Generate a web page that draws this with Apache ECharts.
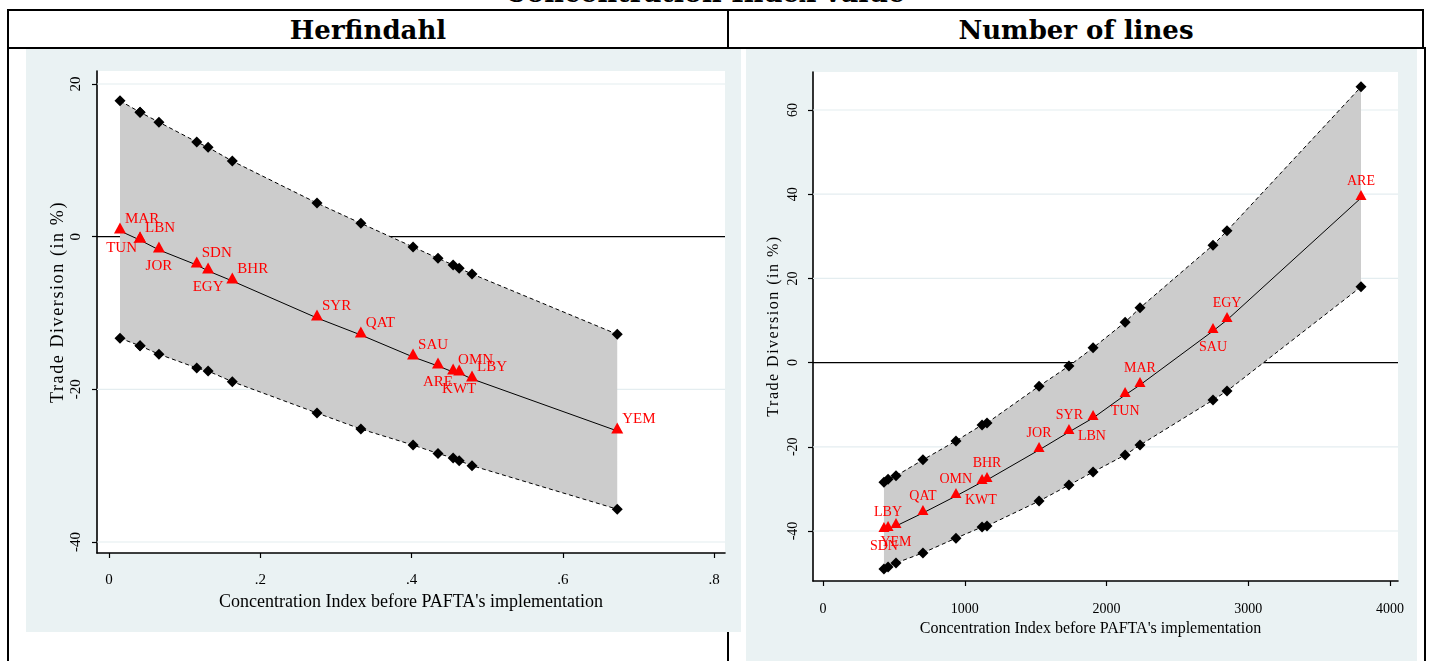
<!DOCTYPE html>
<html>
<head>
<meta charset="utf-8">
<script src="https://cdn.jsdelivr.net/npm/echarts@6/dist/echarts.min.js"></script>
<style>
  html, body { margin:0; padding:0; background:#fff; }
  #wrap { position:relative; width:1430px; height:661px; overflow:hidden; background:#fff; }
  .ln { position:absolute; background:#000; }
  .panel { position:absolute; background:#eaf2f3; }
  .hdr { position:absolute; font-family:"DejaVu Serif", serif; font-weight:bold; font-size:26px; line-height:30px; text-align:center; color:#000; white-space:nowrap; }
  .ytitle { position:absolute; font-family:"Liberation Serif", serif; color:#000; text-align:center; white-space:nowrap; transform:rotate(-90deg); transform-origin:50% 50%; }
  #chart { position:absolute; left:0; top:0; width:1430px; height:661px; }
</style>
</head>
<body>
<div id="wrap">
  <div class="hdr" style="left:405px; width:600px; top:-22px; font-size:27px;">Concentration Index value</div>
  <div class="ln" style="left:7px; top:9px; width:1417px; height:2px;"></div>
  <div class="ln" style="left:7px; top:47px; width:1419px; height:2px;"></div>
  <div class="ln" style="left:7px; top:9px; width:2px; height:652px;"></div>
  <div class="ln" style="left:727px; top:9px; width:2px; height:652px;"></div>
  <div class="ln" style="left:1422px; top:9px; width:2px; height:40px;"></div>
  <div class="ln" style="left:1424px; top:47px; width:2px; height:614px;"></div>
  <div class="hdr" style="left:128px; width:480px; top:15px;">Herfindahl</div>
  <div class="hdr" style="left:836px; width:480px; top:15px;">Number of lines</div>
  <div class="panel" style="left:26px; top:49px; width:715px; height:583px;"></div>
  <div class="panel" style="left:746px; top:49px; width:671px; height:612px;"></div>
  <div id="chart"></div>
  <div class="ytitle" id="yt0" style="left:-53px; top:290px; width:220px; height:24px; line-height:24px; font-size:18px; letter-spacing:1.6px;"></div>
  <div class="ytitle" id="yt1" style="left:673px; top:315px; width:200px; height:22px; line-height:22px; font-size:16px; letter-spacing:1.5px;"></div>
</div>
<script>
// ---------------- DATA ----------------
// Herfindahl panel
const herfCountries = ['MAR','TUN','LBN','JOR','SDN','EGY','BHR','SYR','QAT','SAU','ARE','OMN','KWT','LBY','YEM'];
const herfIndex     = [0.0145,0.041,0.041,0.066,0.116,0.131,0.163,0.275,0.333,0.402,0.435,0.455,0.463,0.480,0.672];
const herfEffect    = [0.75,-0.45,-0.45,-1.74,-3.71,-4.49,-5.80,-10.65,-12.88,-15.76,-16.94,-17.73,-17.86,-18.64,-25.45];
const herfUpper     = [17.8,16.3,16.3,15.0,12.4,11.7,9.9,4.4,1.75,-1.35,-2.83,-3.71,-4.14,-4.89,-12.79];
const herfLower     = [-13.3,-14.3,-14.3,-15.4,-17.2,-17.6,-19.0,-23.1,-25.2,-27.3,-28.4,-29.0,-29.35,-30.0,-35.7];
const herfXTicks    = [0,0.2,0.4,0.6,0.8];
const herfYTicks    = [-40,-20,0,20];

// Number of lines panel
const linesCountries = ['SDN','LBY','YEM','QAT','KWT','OMN','BHR','JOR','LBN','SYR','TUN','MAR','SAU','EGY','ARE'];
const linesIndex     = [430,459,515,705,938,1122,1157,1524,1735,1905,2131,2236,2751,2850,3795];
const linesEffect    = [-39.76,-39.52,-38.81,-35.72,-31.69,-28.36,-27.88,-20.76,-16.49,-13.16,-7.70,-5.32,7.51,10.12,39.10];
const linesUpper     = [-28.4,-27.7,-26.9,-23.1,-18.6,-14.8,-14.35,-5.6,-0.8,3.5,9.6,13.0,27.9,31.3,65.5];
const linesLower     = [-49.0,-48.55,-47.6,-45.2,-41.7,-39.05,-38.8,-32.9,-29.1,-26.0,-21.95,-19.6,-8.9,-6.75,18.0];
const linesXTicks    = [0,1000,2000,3000,4000];
const linesYTicks    = [-40,-20,0,20,40,60];

const xTitle = "Concentration Index before PAFTA's implementation";
const yTitle = "Trade Diversion (in %)";

document.getElementById('yt0').textContent = yTitle;
document.getElementById('yt1').textContent = yTitle;

// ---------------- STYLE ----------------
const SERIF = '"Liberation Serif", "DejaVu Serif", serif';
const herfLabelPlace  = ['ur','ll','ur','b','ur','b','ur','ur','ur','ur','b','ur','b','ur','ur'];
const linesLabelPlace = ['b','t','b','t','r','l','t','t','r','l','b','t','b','t','t'];
const PLACE = {
  ur: {align:'left',   offset:[5,-9]},
  ll: {align:'right',  offset:[-3,11]},
  b:  {align:'center', offset:[0,19]},
  t:  {align:'center', offset:[0,-14]},
  r:  {align:'left',   offset:[9,7]},
  l:  {align:'right',  offset:[-10,0]}
};
const AX = [
  {xmin:-0.0159, xmax:0.8145, ymin:-41.44, ymax:21.70},
  {xmin:-70.5,   xmax:4056,   ymin:-51.88, ymax:69.03}
];

function fmtHerf(v){ if (Math.abs(v) < 1e-9) return '0'; return String(+v.toFixed(2)).replace(/^0/, '').replace(/^-0/, '-'); }

function makeXAxis(gi, ticks, fmt, fs, margin, nameGap, nameFs, namePad) {
  return {
    type:'value', gridIndex:gi, min:AX[gi].xmin, max:AX[gi].xmax,
    axisLine:{show:true, onZero:false, lineStyle:{color:'#000', width:1.6}},
    axisTick:{show:true, length:5, customValues:ticks, lineStyle:{color:'#000', width:1.2}},
    axisLabel:{customValues:ticks, formatter:fmt, color:'#000', fontFamily:SERIF, fontSize:fs, margin:margin},
    splitLine:{show:false},
    name:xTitle, nameLocation:'middle', nameGap:nameGap,
    nameTextStyle:{color:'#000', fontFamily:SERIF, fontSize:nameFs, padding:namePad}
  };
}
function makeYAxis(gi, ticks, fs, margin) {
  return {
    type:'value', gridIndex:gi, min:AX[gi].ymin, max:AX[gi].ymax,
    axisLine:{show:true, onZero:false, lineStyle:{color:'#000', width:1.6}},
    axisTick:{show:true, length:5, customValues:ticks, lineStyle:{color:'#000', width:1.2}},
    axisLabel:{customValues:ticks, rotate:90, color:'#000', fontFamily:SERIF, fontSize:fs, margin:margin,
               formatter:function(v){ return String(Math.round(v)); }},
    splitLine:{show:false}
  };
}

// grid lines + zero line (beneath), then the confidence band polygon on top
function band(gi, xs, lo, hi, ticks) {
  return {
    type:'custom', xAxisIndex:gi, yAxisIndex:gi, z:2, silent:true,
    data:[[xs[0], lo[0]]],
    renderItem:function(params, api){
      const kids = [];
      ticks.forEach(function(t){
        const a = api.coord([AX[gi].xmin, t]), b = api.coord([AX[gi].xmax, t]);
        kids.push({type:'line', z2: t === 0 ? 1 : 0, shape:{x1:a[0], y1:a[1], x2:b[0], y2:b[1]},
                   style:{stroke: t === 0 ? '#000' : '#e4edf0', lineWidth: t === 0 ? 1.3 : 1.2}});
      });
      const pts = [];
      for (let i = 0; i < xs.length; i++) pts.push(api.coord([xs[i], hi[i]]));
      for (let i = xs.length - 1; i >= 0; i--) pts.push(api.coord([xs[i], lo[i]]));
      kids.push({type:'polygon', z2:5, shape:{points:pts}, style:{fill:'#cccccc', stroke:null}});
      return {type:'group', children:kids};
    }
  };
}

function bound(gi, xs, ys, size) {
  return {
    type:'line', xAxisIndex:gi, yAxisIndex:gi, z:11, silent:true,
    data:xs.map(function(x,i){ return [x, ys[i]]; }),
    symbol:'diamond', symbolSize:size, showSymbol:true, showAllSymbol:true,
    itemStyle:{color:'#000'},
    lineStyle:{color:'#000', width:1, type:[4,3]}
  };
}

function effect(gi, xs, ys, names, places, fs, size) {
  return {
    type:'line', xAxisIndex:gi, yAxisIndex:gi, z:12, silent:true,
    symbol:'triangle', symbolSize:size, symbolOffset:[0,-3], showSymbol:true, showAllSymbol:true,
    itemStyle:{color:'#ff0000'},
    lineStyle:{color:'#000', width:1},
    data:xs.map(function(x,i){
      const p = PLACE[places[i]];
      return {
        value:[x, ys[i]], name:names[i],
        label:{show:true, position:'inside', formatter:names[i], color:'#ff0000',
               fontFamily:SERIF, fontSize:fs, align:p.align, verticalAlign:'middle', offset:p.offset}
      };
    })
  };
}

const chart = echarts.init(document.getElementById('chart'), null, {renderer:'canvas', width:1430, height:661});
chart.setOption({
  animation:false,
  backgroundColor:'transparent',
  grid:[
    {left:97, top:71, width:628, height:482, show:true, backgroundColor:'#fff', borderWidth:0},
    {left:813, top:72, width:585, height:509, show:true, backgroundColor:'#fff', borderWidth:0}
  ],
  xAxis:[
    makeXAxis(0, herfXTicks, fmtHerf, 15, 20, 36, 18, [0,0,0,0]),
    makeXAxis(1, linesXTicks, function(v){ return String(Math.round(v)); }, 14, 21, 37, 16, [0,30,0,0])
  ],
  yAxis:[
    makeYAxis(0, herfYTicks, 15, 13),
    makeYAxis(1, linesYTicks, 14, 13)
  ],
  series:[
    band(0, herfIndex, herfLower, herfUpper, herfYTicks),
    bound(0, herfIndex, herfUpper, 11),
    bound(0, herfIndex, herfLower, 11),
    effect(0, herfIndex, herfEffect, herfCountries, herfLabelPlace, 15, [12,11]),
    band(1, linesIndex, linesLower, linesUpper, linesYTicks),
    bound(1, linesIndex, linesUpper, 11),
    bound(1, linesIndex, linesLower, 11),
    effect(1, linesIndex, linesEffect, linesCountries, linesLabelPlace, 14, [11,10])
  ]
});
</script>
</body>
</html>
